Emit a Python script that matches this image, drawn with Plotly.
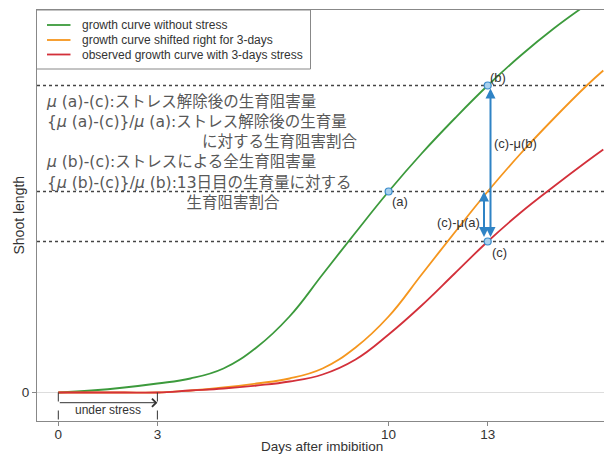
import plotly.graph_objects as go

# ---------------- data ----------------
days = [0, 1, 2, 3, 4, 5, 6, 7, 8, 9, 10, 11, 12, 13, 14, 15, 16, 16.5]
green_vals = [0, 2, 5, 9, 14, 24, 45, 76, 118, 160, 201, 239, 274, 307, 337, 364, 388, 399]
orange_vals = [0, 0, 0, 0, 2, 5, 9, 14, 24, 45, 76, 118, 160, 201, 239, 274, 307, 322]
red_vals = [0, 0, 0, 0, 2, 4, 7, 11, 18, 33, 58, 87, 119, 151, 180, 206, 231, 243]

series_names = ["growth curve without stress",
                "growth curve shifted right for 3-days",
                "observed growth curve with 3-days stress"]
series_colors = ["#3c9a3c", "#f5961e", "#d3303a"]

tick_vals = [0, 3, 10, 13]
stress_start, stress_end = 0, 3
day_a, day_b = 10, 13

IS = "\u3000"  # ideographic space used for indentation
jp_lines = [
    "<i>μ</i> (a)-(c):ストレス解除後の生育阻害量",
    "{<i>μ</i> (a)-(c)}/<i>μ</i> (a):ストレス解除後の生育量",
    IS * 10 + "に対する生育阻害割合",
    "<i>μ</i> (b)-(c):ストレスによる全生育阻害量",
    "{<i>μ</i> (b)-(c)}/<i>μ</i> (b):13日目の生育量に対する",
    IS * 9 + "生育阻害割合",
]

# ---------------- geometry helpers (pixels -> data) ----------------
W, H = 604, 455
ML, MR, MT, MB = 37, 0, 10, 34
PW, PH = W - ML - MR, H - MT - MB
X0_PX, PX_PER_DAY = 58.3, 33.03
Y0_PX = 392.5
x_range = [(ML - X0_PX) / PX_PER_DAY, (W - MR - X0_PX) / PX_PER_DAY]
y_range = [Y0_PX - (H - MB), Y0_PX - MT]


def px_x(px):
    return (px - X0_PX) / PX_PER_DAY


def px_y(py):
    return Y0_PX - py


def paper_x(px):
    return (px - ML) / PW


def paper_y(py):
    return (H - MB - py) / PH


ia = days.index(day_a)
ib = days.index(day_b)
val_a = green_vals[ia]
val_b = green_vals[ib]
val_c = red_vals[ib]

fig = go.Figure()
for vals, name, col in zip([green_vals, orange_vals, red_vals], series_names, series_colors):
    fig.add_trace(go.Scatter(x=days, y=vals, mode="lines", name=name,
                             line=dict(color=col, width=1.8, shape="spline", smoothing=1.2),
                             showlegend=False, hoverinfo="skip"))

# points (a),(b),(c)
fig.add_trace(go.Scatter(x=[day_a, day_b, day_b], y=[val_a, val_b, val_c], mode="markers",
                         marker=dict(size=7, color="#a9d1ee", line=dict(color="#3a8ccb", width=1.2)),
                         showlegend=False, hoverinfo="skip"))

# dotted horizontal reference lines
for v in [val_b, val_a, val_c]:
    fig.add_shape(type="line", xref="paper", x0=0, x1=1, yref="y", y0=v, y1=v,
                  line=dict(color="#444444", width=1.4, dash="dot"), layer="below")

# stress dashed verticals
for d in [stress_start, stress_end]:
    fig.add_shape(type="line", xref="x", x0=d, x1=d, yref="y", y0=0, y1=px_y(425),
                  line=dict(color="#333333", width=1, dash="dash"))

annots = []
# under stress arrow
annots.append(dict(x=stress_end, y=px_y(402.7), ax=stress_start, ay=px_y(402.7),
                   xref="x", yref="y", axref="x", ayref="y", text="", showarrow=True,
                   arrowhead=4, arrowsize=1.6, arrowwidth=1, arrowcolor="#333333", standoff=0))
annots.append(dict(x=px_x(108), y=px_y(409.5), xref="x", yref="y", text="under stress",
                   showarrow=False, font=dict(size=12, color="#333333")))

# blue double arrows
arrow_col = "#2f83c5"
annots.append(dict(x=px_x(490.5), y=val_b, ax=px_x(490.5), ay=val_c, xref="x", yref="y",
                   axref="x", ayref="y", text="", showarrow=True, arrowhead=2, arrowside="end+start",
                   arrowsize=1, arrowwidth=2, arrowcolor=arrow_col, standoff=3, startstandoff=3))
annots.append(dict(x=px_x(484), y=val_a, ax=px_x(484), ay=val_c, xref="x", yref="y",
                   axref="x", ayref="y", text="", showarrow=True, arrowhead=2, arrowside="end+start",
                   arrowsize=1, arrowwidth=2, arrowcolor=arrow_col, standoff=0, startstandoff=3))

lab_font = dict(size=13, color="#333333", family="Liberation Sans, Arial")
for txt, px, py in [("(a)", 400, 201), ("(b)", 498, 77), ("(c)", 499, 252),
                    ("(c)-μ(b)", 515, 143), ("(c)-μ(a)", 458, 222)]:
    annots.append(dict(x=px_x(px), y=px_y(py), xref="x", yref="y", text=txt,
                       showarrow=False, font=lab_font))

# Japanese text block (single multi-line annotation)
annots.append(dict(xref="paper", x=paper_x(44), yref="paper", y=paper_y(91),
                   xanchor="left", yanchor="top", align="left", showarrow=False,
                   text="<br>".join(jp_lines),
                   font=dict(size=15.5, color="#585858", family="DejaVu Sans, Noto Sans CJK JP")))

# legend (manual)
leg_rows = [25, 40, 54.5]
fig.add_shape(type="rect", xref="paper", yref="paper", x0=paper_x(36.5), x1=paper_x(310.5),
              y0=paper_y(69), y1=paper_y(10), line=dict(color="#888888", width=1),
              fillcolor="white", layer="above")
for name, col, py in zip(series_names, series_colors, leg_rows):
    fig.add_shape(type="line", xref="paper", yref="paper", x0=paper_x(47), x1=paper_x(70.5),
                  y0=paper_y(py), y1=paper_y(py), line=dict(color=col, width=1.8))
    annots.append(dict(xref="paper", x=paper_x(80), yref="paper", y=paper_y(py), text=name,
                       showarrow=False, xanchor="left", yanchor="middle",
                       font=dict(size=12, color="#333333", family="Liberation Sans, Arial")))

# axis titles
annots.append(dict(xref="paper", x=paper_x(322), yref="paper", y=paper_y(447),
                   text="Days after imbibition", showarrow=False, xanchor="center", yanchor="middle",
                   font=dict(size=13.5, color="#333333", family="Liberation Sans, Arial")))
annots.append(dict(xref="paper", x=paper_x(18), yref="paper", y=0.5,
                   text="Shoot length", textangle=-90, showarrow=False,
                   xanchor="center", yanchor="middle",
                   font=dict(size=14, color="#333333", family="Liberation Sans, Arial")))

fig.update_layout(
    width=W, height=H, margin=dict(l=ML, r=MR, t=MT, b=MB, autoexpand=False),
    paper_bgcolor="white", plot_bgcolor="white",
    annotations=annots,
    font=dict(family="Liberation Sans, Arial", color="#333333"),
    xaxis=dict(range=x_range, tickmode="array", tickvals=tick_vals, ticks="outside", ticklen=4,
               tickcolor="#888888", showline=True, linecolor="#888888", linewidth=1, mirror=True,
               showgrid=False, zeroline=False, tickfont=dict(size=13.5, color="#333333"),
               ticklabelstandoff=-3),
    yaxis=dict(range=y_range, tickmode="array", tickvals=[0], ticks="outside", ticklen=4,
               tickcolor="#888888", showline=True, linecolor="#888888", linewidth=1,
               showgrid=False, zeroline=True, zerolinecolor="#dddddd", zerolinewidth=1,
               tickfont=dict(size=13.5, color="#333333")),
)

fig.write_html("out.html")
